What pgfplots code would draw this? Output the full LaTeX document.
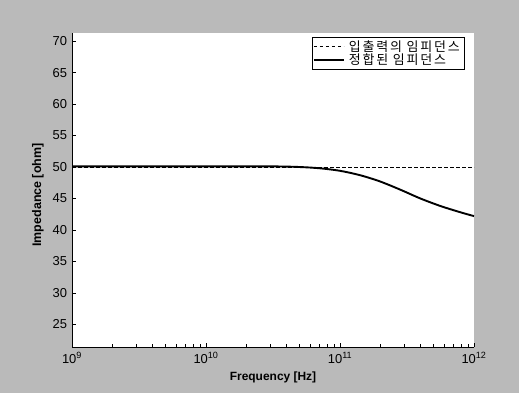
\documentclass[border=0pt]{standalone}
\usepackage{fontspec}
\setmainfont{Liberation Sans}
\newfontfamily\kr[LetterSpace=14]{Noto Sans CJK KR}
\usepackage{pgfplots}
\pgfplotsset{compat=1.18}
\begin{document}
\begin{tikzpicture}
\fill[black!27] (0bp,0bp) rectangle (519bp,393bp);
\begin{axis}[
  at={(72bp,46bp)}, anchor=south west,
  scale only axis, width=402bp, height=314bp,
  xmode=log, xmin=1e9, xmax=1e12,
  ymin=21.4, ymax=71.3,
  ytick={25,30,...,70},
  xtick={1e9,1e10,1e11,1e12},
  xticklabels={10\textsuperscript{9},10\textsuperscript{10},10\textsuperscript{11},10\textsuperscript{12}},
  axis lines=left, axis line style={-, line width=0.9bp},
  axis background/.style={fill=white},
  tick align=inside,
  major tick length=4bp, minor tick length=2.5bp,
  tick style={black, line width=0.6bp},
  /pgf/number format/assume math mode=true,
  tick label style={font=\fontsize{13}{14}\selectfont},
  yticklabel style={xshift=-1.5bp},
  xticklabel style={yshift=-2bp},
  xlabel={Frequency [Hz]},
  ylabel={Impedance [ohm]},
  xlabel style={font=\bfseries\fontsize{12}{13}\selectfont, at={(axis description cs:0.5,-0.096)}, anchor=center},
  ylabel style={font=\bfseries\fontsize{12.5}{13}\selectfont, at={(axis description cs:-0.085,0.484)}, anchor=center, rotate=0},
  legend style={at={(rel axis cs:0.978,0.987)}, anchor=north east, draw=black, line width=0.7bp,
    font=\kr\fontsize{13}{13}\selectfont, inner sep=1bp, row sep=-2.5bp, fill=white,
    nodes={inner xsep=4bp}},
  legend cell align=left,
  legend image code/.code={\draw[#1] (0bp,0bp) -- (30bp,0bp);},
]
\addplot[black, line width=0.9bp, dash pattern=on 3.5bp off 2.5bp] coordinates {(1e9,50) (1e12,50)};
\addlegendentry{입출력의 임피던스}
\addplot[black, line width=1.9bp, smooth] coordinates {
(1e9,50.1) (3.162e9,50.1) (1e10,50.1) (3.162e10,50.1) (5.01e10,50.0) (7.08e10,49.8)
(1e11,49.4) (1.413e11,48.7) (1.995e11,47.7) (2.818e11,46.4) (3.981e11,45.0)
(5.623e11,43.8) (7.943e11,42.8) (1e12,42.2)};
\addlegendentry{정합된 임피던스}
\end{axis}
\end{tikzpicture}
\end{document}
